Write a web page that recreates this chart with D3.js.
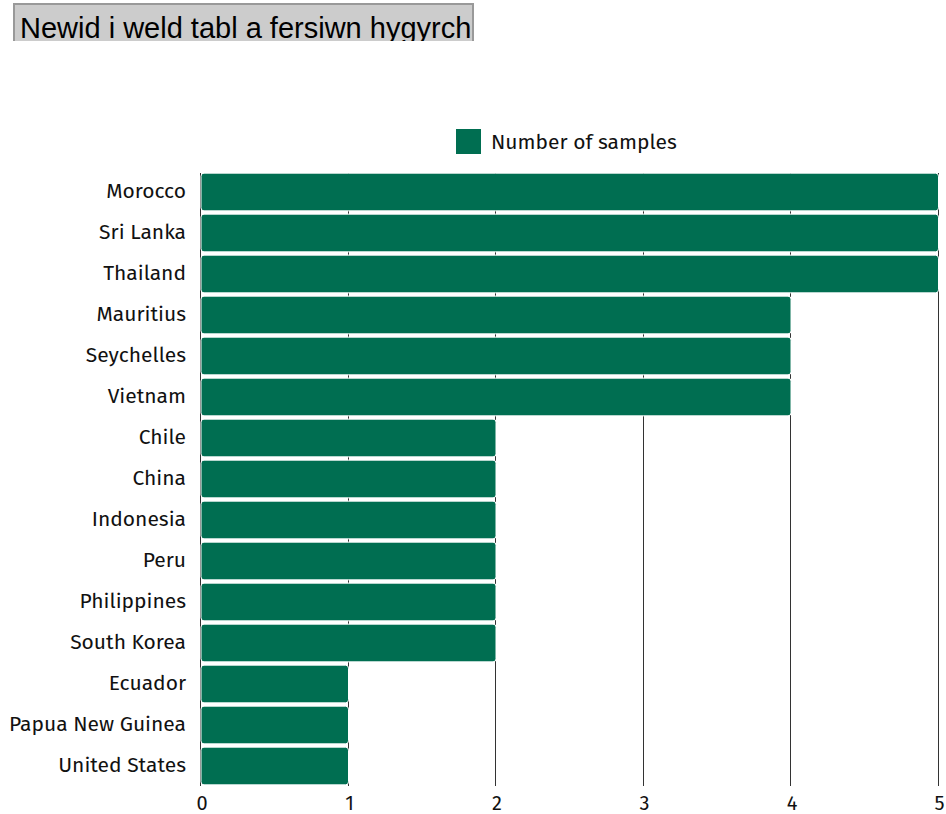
<!DOCTYPE html>
<html>
<head>
<meta charset="utf-8">
<script src="https://cdn.jsdelivr.net/npm/d3@7"></script>
<style>
  html, body { margin: 0; padding: 0; background: #fff; }
  body { width: 946px; height: 814px; position: relative; overflow: hidden; }
  #btn {
    position: absolute; left: 13px; top: 3px; width: 461px; height: 38px;
    background: #cccccc; border: 2px solid #999; border-bottom: none;
    font-family: "Liberation Sans", Arial, sans-serif; font-size: 29px; color: #000;
    box-sizing: border-box; padding-left: 5px; line-height: 46px; overflow: hidden; white-space: nowrap;
  }
  svg { position: absolute; left: 0; top: 0; }
  text { font-family: "Fira Sans", "Noto Sans", sans-serif; }
</style>
</head>
<body>
<div id="btn">Newid i weld tabl a fersiwn hygyrch</div>
<svg id="chart" width="946" height="814"></svg>
<script>
const categories = ["Morocco","Sri Lanka","Thailand","Mauritius","Seychelles","Vietnam","Chile","China","Indonesia","Peru","Philippines","South Korea","Ecuador","Papua New Guinea","United States"];
const values = [5,5,5,4,4,4,2,2,2,2,2,2,1,1,1];
const seriesName = "Number of samples";
const xTicks = [0,1,2,3,4,5];
const color = "#006e51";

const svg = d3.select("#chart");
const x = d3.scaleLinear().domain([0,5]).range([201, 938.5]);
const y = d3.scaleBand().domain(categories).range([171.5, 786.5]).paddingInner(0.08).paddingOuter(0.04);

// gridlines
svg.append("g").selectAll("line").data(xTicks).join("line")
  .attr("x1", d => Math.round(x(d)) - 0.5).attr("x2", d => Math.round(x(d)) - 0.5)
  .attr("y1", 173).attr("y2", 786)
  .attr("stroke", "#333").attr("stroke-width", 1);

// bars
svg.append("g").selectAll("rect").data(categories).join("rect")
  .attr("x", x(0))
  .attr("y", d => y(d))
  .attr("width", (d,i) => x(values[i]) - x(0))
  .attr("height", y.bandwidth())
  .attr("rx", 3).attr("ry", 3)
  .attr("fill", color)
  .attr("stroke", "#fff").attr("stroke-width", 1);

// y labels
svg.append("g").selectAll("text").data(categories).join("text")
  .attr("x", 186)
  .attr("y", d => y(d) + y.bandwidth()/2 - 1)
  .attr("text-anchor", "end")
  .attr("dominant-baseline", "central")
  .attr("font-size", 21)
  .attr("fill", "#111")
  .text(d => d);

// x axis
const xAxis = svg.append("g").attr("transform", "translate(0.5,792)")
  .call(d3.axisBottom(x).tickValues(xTicks).tickSize(0).tickPadding(4).tickFormat(d3.format("d")));
xAxis.select(".domain").remove();
xAxis.selectAll("text").attr("font-size", 20).attr("fill", "#111")
  .style("font-family", "'Fira Sans','Noto Sans',sans-serif");

// legend
const lg = svg.append("g").attr("transform", "translate(456,129)");
lg.append("rect").attr("width", 25).attr("height", 25).attr("fill", color);
lg.append("text").attr("x", 35).attr("y", 12.5).attr("dominant-baseline", "central")
  .attr("font-size", 21).attr("fill", "#111").text(seriesName);
</script>
</body>
</html>
